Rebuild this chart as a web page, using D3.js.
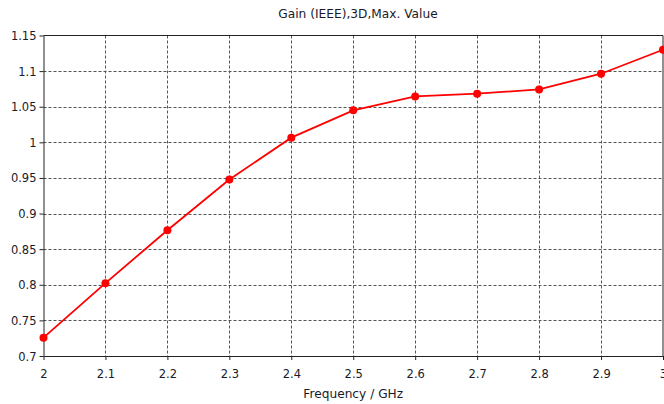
<!DOCTYPE html>
<html><head><meta charset="utf-8">
<script src="https://cdn.jsdelivr.net/npm/d3@7"></script>
<style>
body{margin:0;background:#fff;}
text{font-family:"DejaVu Sans",sans-serif;}
</style></head>
<body><svg id="c" width="664" height="404"></svg>
<script>
const freq = [2.0, 2.1, 2.2, 2.3, 2.4, 2.5, 2.6, 2.7, 2.8, 2.9, 3.0];
const gain = [0.7257, 0.8023, 0.8766, 0.9477, 1.0066, 1.0449, 1.0645, 1.0683, 1.0743, 1.0963, 1.1300];
const xTicks = [2, 2.1, 2.2, 2.3, 2.4, 2.5, 2.6, 2.7, 2.8, 2.9, 3];
const yTicks = [0.7, 0.75, 0.8, 0.85, 0.9, 0.95, 1, 1.05, 1.1, 1.15];
const title = "Gain (IEEE),3D,Max. Value";
const xLabel = "Frequency / GHz";

const svg = d3.select("#c");
const L = 43.5, R = 663, T = 35.5, B = 356;
const x = d3.scaleLinear().domain([2, 3]).range([L, R]);
const y = d3.scaleLinear().domain([0.7, 1.15]).range([B, T]);
const fmt = d => String(+d.toFixed(2));

// grid
const g = svg.append("g");
g.selectAll(".vx").data(xTicks.slice(1, -1)).join("line")
  .attr("x1", d => Math.round(x(d)) + 0.5).attr("x2", d => Math.round(x(d)) + 0.5)
  .attr("y1", T).attr("y2", B)
  .attr("stroke", "#555").attr("stroke-dasharray", "3,2");
g.selectAll(".hy").data(yTicks.slice(1, -1)).join("line")
  .attr("y1", d => Math.round(y(d)) + 0.5).attr("y2", d => Math.round(y(d)) + 0.5)
  .attr("x1", L).attr("x2", R)
  .attr("stroke", "#555").attr("stroke-dasharray", "3,2");

// axes
const xAxis = svg.append("g").attr("transform", `translate(0,${B})`)
  .call(d3.axisBottom(x).tickValues(xTicks).tickFormat(fmt).tickSize(4).tickSizeOuter(0));
const yAxis = svg.append("g").attr("transform", `translate(${L},0)`)
  .call(d3.axisLeft(y).tickValues(yTicks).tickFormat(fmt).tickSize(4).tickSizeOuter(0));
[xAxis, yAxis].forEach(a => {
  a.select(".domain").attr("stroke", "#222");
  a.selectAll(".tick line").attr("stroke", "#222");
  a.selectAll("text").attr("fill", "#1a1a2a").style("font-size", "11.5px").style("font-family", "DejaVu Sans");
});
xAxis.selectAll("text").attr("dy", "0").attr("y", 22);
yAxis.selectAll("text").attr("x", -7).attr("dy", "0.35em");
// frame top/right
svg.append("line").attr("x1", L).attr("x2", R).attr("y1", T).attr("y2", T).attr("stroke", "#222");
svg.append("line").attr("x1", R).attr("x2", R).attr("y1", T).attr("y2", B).attr("stroke", "#222");

// line
svg.append("path").datum(freq.map((f, i) => [f, gain[i]]))
  .attr("fill", "none").attr("stroke", "#ff0000").attr("stroke-width", 1.8)
  .attr("d", d3.line().x(d => x(d[0])).y(d => y(d[1])));
svg.selectAll(".pt").data(freq.map((f, i) => [f, gain[i]])).join("circle")
  .attr("cx", d => x(d[0])).attr("cy", d => y(d[1])).attr("r", 4)
  .attr("fill", "#ff0000");

// texts
svg.append("text").attr("x", 358).attr("y", 18).attr("text-anchor", "middle")
  .style("font-size", "12.2px").attr("fill", "#1a1a2a").text(title);
svg.append("text").attr("x", (L + R) / 2).attr("y", 398).attr("text-anchor", "middle")
  .style("font-size", "12.2px").attr("fill", "#1a1a2a").text(xLabel);
</script></body></html>
